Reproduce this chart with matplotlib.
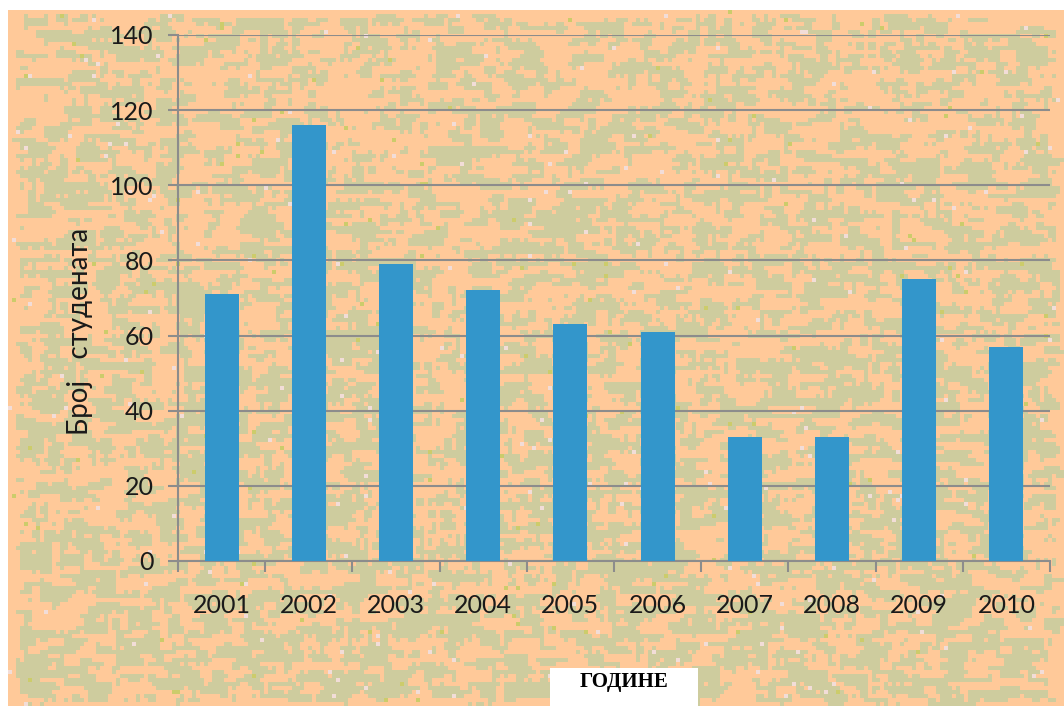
import numpy as np
import matplotlib.pyplot as plt
from matplotlib.patches import Rectangle

years = ['2001', '2002', '2003', '2004', '2005', '2006', '2007', '2008', '2009', '2010']
students = [71, 116, 79, 72, 63, 61, 33, 33, 75, 57]
y_ticks = [0, 20, 40, 60, 80, 100, 120, 140]

W, H = 1064, 706
fig = plt.figure(figsize=(W / 100, H / 100), dpi=100)
fig.patch.set_facecolor('white')

# ---- canvas-like fill behind the chart (peach with olive streaks) ----
ch, cw = 174, 264          # 4 px cells
yy, xx = np.mgrid[0:ch, 0:cw].astype(float)

def hash_field(a, b, c):
    v = np.sin(xx * a + yy * b) * c
    return v - np.floor(v)

def smooth(a, kx, ky):
    if kx > 1:
        k = np.ones(kx) / kx
        a = np.apply_along_axis(lambda r: np.convolve(r, k, mode='same'), 1, a)
    if ky > 1:
        k = np.ones(ky) / ky
        a = np.apply_along_axis(lambda c: np.convolve(c, k, mode='same'), 0, a)
    return a

horiz = smooth(hash_field(12.9898, 78.233, 43758.5453), 6, 2)
vert = smooth(hash_field(39.3468, 11.135, 24634.6345), 2, 5)
field = 0.65 * horiz + 0.35 * vert
rank = field.ravel().argsort().argsort().reshape(field.shape) / field.size
dens = 0.62 - 0.18 * (yy / ch)
olive = rank > dens
spots = hash_field(7.13, 91.7, 15731.743) > 0.996
pale = hash_field(63.7, 5.21, 31337.17) > 0.995

tex = np.empty((ch, cw, 3))
tex[:] = (1.0, 0.79, 0.60)
tex[olive] = (0.81, 0.80, 0.62)
tex[spots] = (0.80, 0.80, 0.42)
tex[pale] = (0.95, 0.87, 0.85)

bg = fig.add_axes([8 / W, 0, (W - 8) / W, (H - 10) / H], zorder=0)
bg.imshow(tex, aspect='auto', interpolation='nearest')
bg.axis('off')

# ---- bar chart ----
left, right, top, base = 178, 1050, 35, 561
ax = fig.add_axes([left / W, 1 - base / H, (right - left) / W, (base - top) / H], zorder=1)
ax.set_facecolor('none')

x = np.arange(len(years))
ax.bar(x, students, width=0.39, color='#3396CB', zorder=3)

ax.set_xlim(-0.5, len(years) - 0.5)
ax.set_ylim(0, 140)
ax.set_yticks(y_ticks)
ax.yaxis.grid(True, color='#8C8C8C', linewidth=1.5)
ax.set_axisbelow(True)

for s in ['top', 'right']:
    ax.spines[s].set_visible(False)
for s in ['left', 'bottom']:
    ax.spines[s].set_color('#8C8C8C')
    ax.spines[s].set_linewidth(1.5)

ax.set_xticks(x)
ax.set_xticklabels(years)
ax.set_xticks(np.arange(-0.5, len(years)), minor=True)
ax.tick_params(axis='x', which='major', length=0, pad=24, labelsize=18)
ax.tick_params(axis='x', which='minor', length=8, width=1.5, color='#8C8C8C')
ax.tick_params(axis='y', length=7.5, width=1.5, color='#8C8C8C', pad=10, labelsize=18)
for lab in ax.get_xticklabels() + ax.get_yticklabels():
    lab.set_fontfamily('Lato')
    lab.set_color('#1a1a1a')

fig.text(80 / W, 1 - 331 / H, 'Број   студената', rotation=90, ha='center', va='center',
         fontsize=20, fontfamily='Lato', color='#1a1a1a')

# x-axis title in a white box
fig.patches.append(Rectangle((550 / W, 0), 148 / W, (H - 668) / H, transform=fig.transFigure,
                             facecolor='white', edgecolor='none', zorder=2))
fig.text(624 / W, 1 - 682 / H, 'ГОДИНЕ', ha='center', va='center', fontsize=15,
         fontweight='bold', fontfamily='Liberation Serif', color='black', zorder=3)

fig.savefig('out.png', dpi=100, facecolor=fig.get_facecolor())
